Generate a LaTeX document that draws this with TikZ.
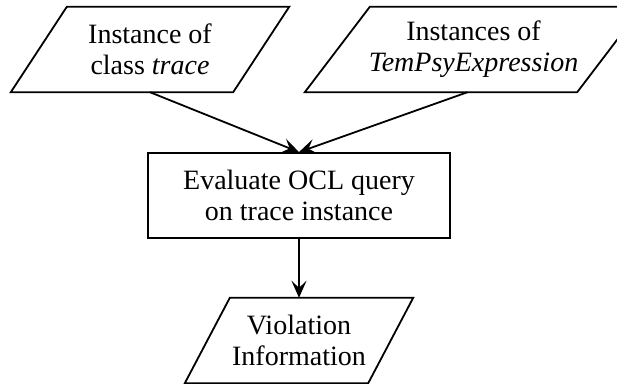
\documentclass[tikz,border=0pt]{standalone}
\usepackage{fontspec}
\setmainfont{Liberation Serif}
\usetikzlibrary{arrows.meta,calc}
\begin{document}
\begin{tikzpicture}[x=1pt,y=-1pt,
  txt/.style={font=\fontsize{28}{31}\selectfont, align=center, inner sep=0pt},
  pbox/.style={txt, minimum height=85pt},
  rbox/.style={txt, draw, line width=1.8pt, minimum width=302pt, minimum height=85pt},
  conn/.style={line width=1.8pt, -{Stealth[length=17pt,width=15pt,inset=7pt]}},
  pline/.style={line width=1.8pt, line join=miter}
]
\useasboundingbox (0,0) rectangle (617,383);
\clip (0,0) rectangle (617,383);
\fill[white] (0,0) rectangle (617,383);

\node[pbox, minimum width=222pt] (a) at (150,49.5) {Instance of\\class \textit{trace}};
\node[pbox, minimum width=272pt] (b) at (473.5,49.5) {Instances of\\\textit{TemPsyExpression}};
\node[rbox] (c) at (299,195.5) {Evaluate OCL query\\on trace instance};
\node[pbox, minimum width=183pt] (d) at (299,340.5) {Violation\\Information};

\draw[pline] ($(a.north west)+(28,0)$) -- ($(a.north east)+(28,0)$) -- ($(a.south east)-(28,0)$) -- ($(a.south west)-(28,0)$) -- cycle;
\draw[pline] ($(b.north west)+(32.5,0)$) -- ($(b.north east)+(32.5,0)$) -- ($(b.south east)-(32.5,0)$) -- ($(b.south west)-(32.5,0)$) -- cycle;
\draw[pline] ($(d.north west)+(22.5,0)$) -- ($(d.north east)+(22.5,0)$) -- ($(d.south east)-(22.5,0)$) -- ($(d.south west)-(22.5,0)$) -- cycle;

\draw[conn] (a.south) -- (c.north);
\draw[conn] ($(b.south)+(-6,0)$) -- (c.north);
\draw[conn] (c.south) -- (d.north);
\end{tikzpicture}
\end{document}
